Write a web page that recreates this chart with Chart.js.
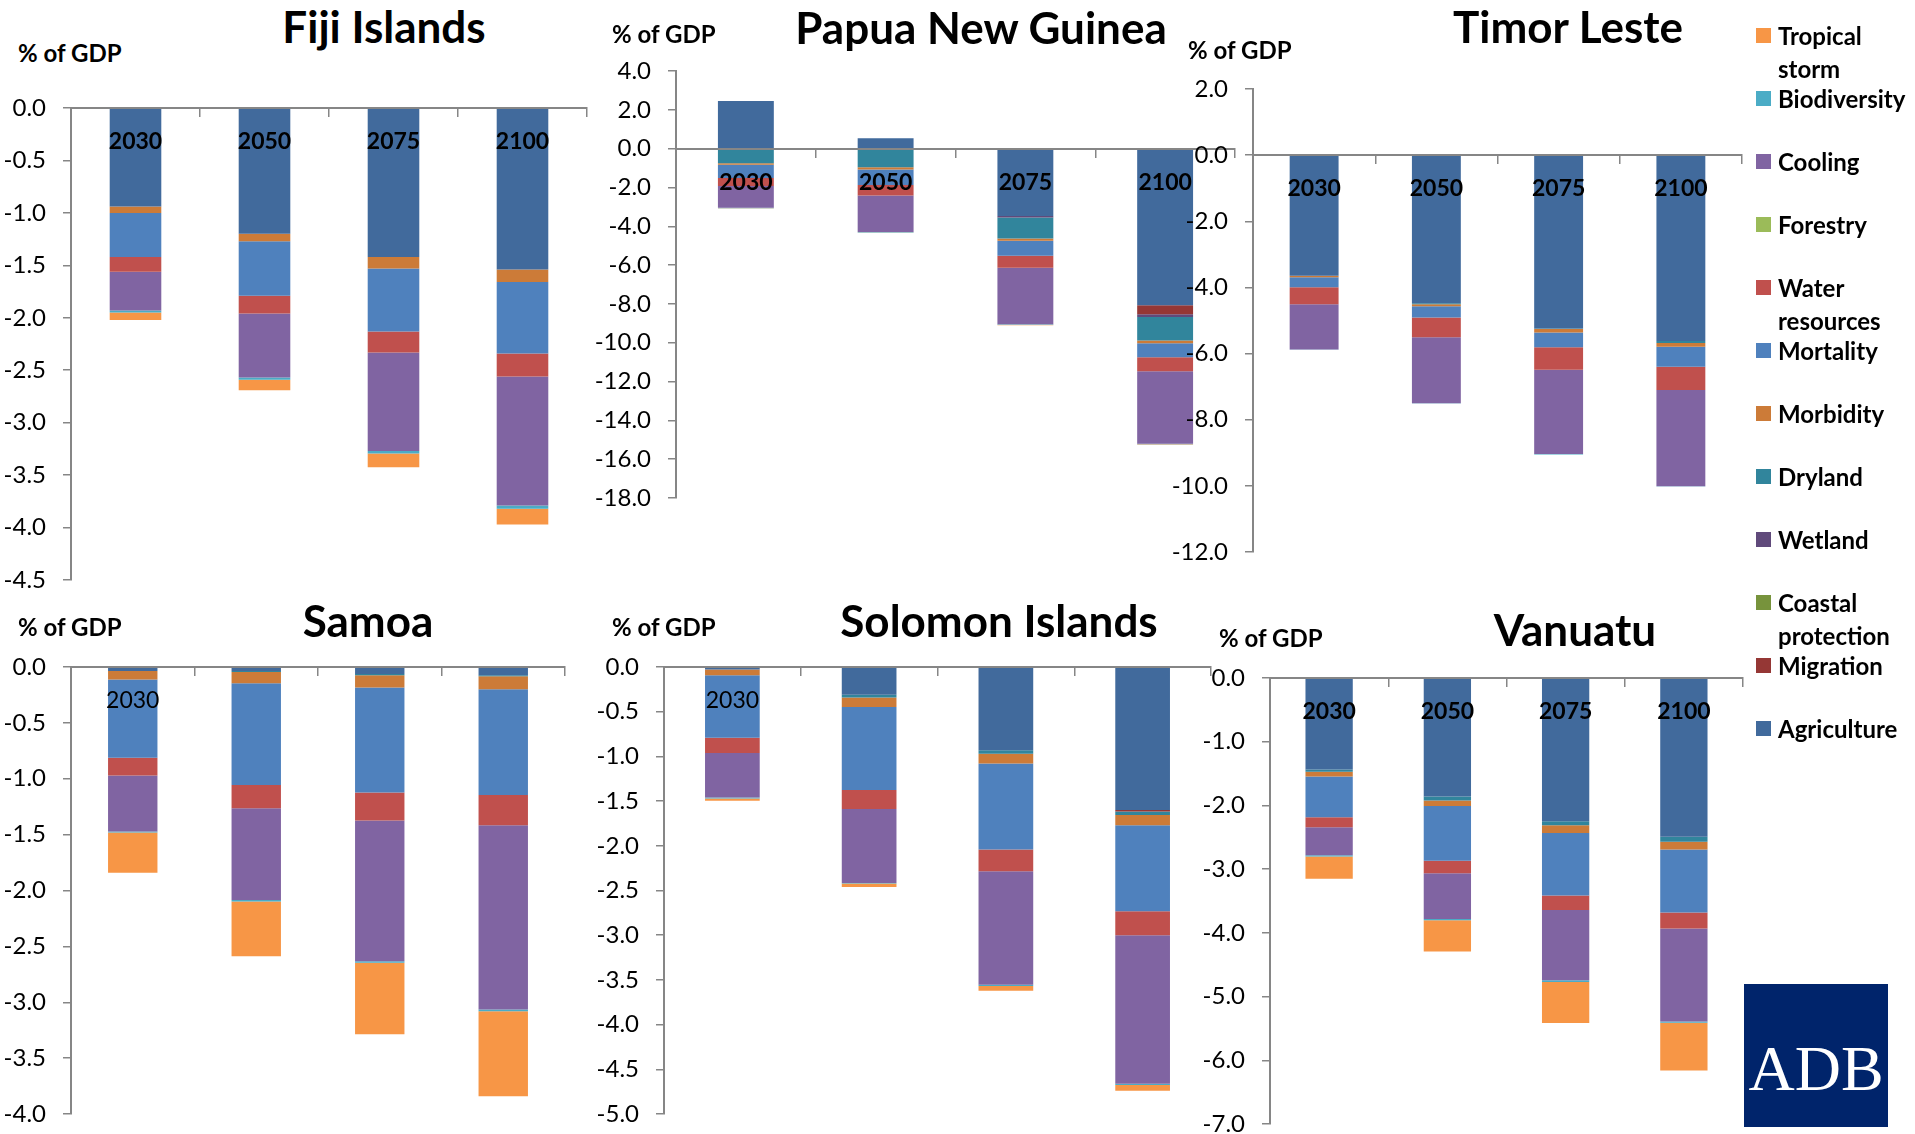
<!DOCTYPE html>
<html>
<head>
<meta charset="utf-8">
<script src="https://cdn.jsdelivr.net/npm/chart.js@4.4.1/dist/chart.umd.min.js"></script>
<style>
  body { margin:0; background:#fff; width:1915px; height:1134px; overflow:hidden; position:relative; font-family:Lato, sans-serif; color:#000; }
  canvas { position:absolute; }
  .title { position:absolute; font-weight:bold; font-size:44px; line-height:1; white-space:nowrap; transform:translateX(-50%); }
  .unit { position:absolute; font-weight:bold; font-size:24px; line-height:1; white-space:nowrap; }
  .lg-box { position:absolute; width:15px; height:15px; }
  .lg-text { position:absolute; font-weight:bold; font-size:24px; line-height:33px; white-space:nowrap; }
  #adb { position:absolute; left:1744px; top:984px; width:144px; height:143px; background:#00246b; }
  #adb span { position:absolute; left:0; width:144px; top:53px; text-align:center; color:#fff; font-family:"Liberation Serif", serif; font-size:64px; line-height:1; }
</style>
</head>
<body>
<div id="adb"><span>ADB</span></div>
<script>
var years = ['2030', '2050', '2075', '2100'];

// stacking order, from the zero line downwards
var seriesNames = ['Agriculture', 'Migration', 'Coastal protection', 'Wetland', 'Dryland', 'Morbidity',
                   'Mortality', 'Water resources', 'Forestry', 'Cooling', 'Biodiversity', 'Tropical storm'];
var seriesColors = ['#416a9c', '#953735', '#77933c', '#604a7b', '#31859c', '#cc7b38',
                    '#4f81bd', '#c0504d', '#9bbb59', '#8064a2', '#4bacc6', '#f79646'];

// one row per series (same order as seriesNames), one value per year
var fiji = [
  [-0.94, -1.20, -1.42, -1.54],
  [0, 0, 0, 0],
  [0, 0, 0, 0],
  [0, 0, 0, 0],
  [0, 0, 0, 0],
  [-0.06, -0.07, -0.11, -0.12],
  [-0.42, -0.52, -0.60, -0.68],
  [-0.14, -0.17, -0.20, -0.22],
  [0, 0, 0, 0],
  [-0.37, -0.61, -0.94, -1.23],
  [-0.02, -0.02, -0.025, -0.03],
  [-0.07, -0.10, -0.13, -0.15]
];
var papua = [
  [2.46, 0.53, -3.47, -8.07],
  [0, 0, 0, -0.46],
  [0, 0, 0, 0],
  [0, 0, -0.08, -0.15],
  [-0.75, -0.96, -1.08, -1.21],
  [-0.08, -0.12, -0.12, -0.14],
  [-0.68, -0.79, -0.77, -0.72],
  [-0.41, -0.55, -0.62, -0.72],
  [0, 0, 0, 0],
  [-1.13, -1.88, -2.91, -3.73],
  [-0.02, -0.02, -0.03, -0.03],
  [-0.02, -0.02, -0.02, -0.02]
];
var timor = [
  [-3.65, -4.48, -5.24, -5.62],
  [0, 0, 0, 0],
  [0, 0, 0, 0],
  [0, 0, 0, 0],
  [0, -0.03, -0.02, -0.06],
  [-0.045, -0.06, -0.10, -0.11],
  [-0.30, -0.34, -0.45, -0.61],
  [-0.51, -0.60, -0.68, -0.70],
  [0, 0, 0, 0],
  [-1.37, -1.99, -2.55, -2.91],
  [-0.01, -0.01, -0.01, -0.01],
  [0, 0, 0, 0]
];
var samoa = [
  [-0.035, -0.035, -0.063, -0.073],
  [0, 0, 0, 0],
  [0, 0, 0, 0],
  [0, 0, 0, 0],
  [0, -0.01, -0.01, -0.01],
  [-0.076, -0.10, -0.11, -0.117],
  [-0.70, -0.91, -0.94, -0.945],
  [-0.16, -0.21, -0.25, -0.27],
  [0, 0, 0, 0],
  [-0.50, -0.82, -1.26, -1.65],
  [-0.01, -0.013, -0.013, -0.016],
  [-0.36, -0.49, -0.64, -0.76]
];
var solomon = [
  [-0.028, -0.31, -0.93, -1.60],
  [0, 0, 0, -0.016],
  [0, 0, 0, 0],
  [0, 0, 0, 0],
  [0, -0.03, -0.04, -0.04],
  [-0.063, -0.107, -0.11, -0.115],
  [-0.70, -0.93, -0.96, -0.96],
  [-0.17, -0.21, -0.245, -0.27],
  [0, 0, 0, 0],
  [-0.50, -0.83, -1.27, -1.66],
  [-0.01, -0.005, -0.012, -0.016],
  [-0.025, -0.04, -0.055, -0.063]
];
var vanuatu = [
  [-1.437, -1.86, -2.25, -2.49],
  [0, 0, 0, 0],
  [0, 0, 0, 0],
  [0, 0, 0, 0],
  [-0.034, -0.063, -0.063, -0.08],
  [-0.075, -0.086, -0.12, -0.12],
  [-0.64, -0.86, -0.98, -0.99],
  [-0.155, -0.195, -0.23, -0.25],
  [0, 0, 0, 0],
  [-0.44, -0.72, -1.10, -1.46],
  [-0.02, -0.017, -0.03, -0.02],
  [-0.35, -0.49, -0.64, -0.75]
];

// legend is listed in this order in the original
var legendOrder = ['Tropical storm', 'Biodiversity', 'Cooling', 'Forestry', 'Water resources', 'Mortality',
                   'Morbidity', 'Dryland', 'Wetland', 'Coastal protection', 'Migration', 'Agriculture'];

// layout of the six panels (plot box = left, top, right, bottom)
var panels = [
  {title: 'Fiji Islands', data: fiji, min: -4.5, max: 0, step: 0.5, box: [71, 108, 587, 580], tx: 384, ty: 27, ux: 18, uy: 54, bold: true, all: true},
  {title: 'Papua New Guinea', data: papua, min: -18, max: 4, step: 2, box: [676, 71, 1235, 498], tx: 981, ty: 28, ux: 612, uy: 35, bold: true, all: true},
  {title: 'Timor Leste', data: timor, min: -12, max: 2, step: 2, box: [1253, 89, 1742, 552], tx: 1568, ty: 27, ux: 1188, uy: 51, bold: true, all: true},
  {title: 'Samoa', data: samoa, min: -4, max: 0, step: 0.5, box: [71, 667, 565, 1114], tx: 368, ty: 621, ux: 18, uy: 628, bold: false, all: false},
  {title: 'Solomon Islands', data: solomon, min: -5, max: 0, step: 0.5, box: [664, 667, 1211, 1114], tx: 999, ty: 621, ux: 612, uy: 628, bold: false, all: false},
  {title: 'Vanuatu', data: vanuatu, min: -7, max: 0, step: 1, box: [1270, 678, 1743, 1124], tx: 1575, ty: 630, ux: 1219, uy: 639, bold: true, all: true}
];

function addText(cls, text, left, top) {
  var d = document.createElement('div');
  d.className = cls;
  d.textContent = text;
  d.style.left = left + 'px';
  d.style.top = top + 'px';
  document.body.appendChild(d);
  return d;
}

function makePanel(p) {
  var padL = 90, padT = 40, padR = 20, padB = 40;
  var l = p.box[0], t = p.box[1], r = p.box[2], b = p.box[3];
  var w = r - l + padL + padR, h = b - t + padT + padB;
  var cv = document.createElement('canvas');
  cv.width = w; cv.height = h;
  cv.style.left = (l - padL) + 'px';
  cv.style.top = (t - padT) + 'px';
  cv.style.width = w + 'px';
  cv.style.height = h + 'px';
  document.body.appendChild(cv);

  addText('title', p.title, p.tx, p.ty - 23);
  addText('unit', '% of GDP', p.ux, p.uy - 13);

  new Chart(cv, {
    type: 'bar',
    data: {
      labels: years,
      datasets: seriesNames.map(function(name, i) {
        return {label: name, data: p.data[i], backgroundColor: seriesColors[i],
                barPercentage: 0.4, categoryPercentage: 1};
      })
    },
    options: {
      responsive: false,
      animation: false,
      devicePixelRatio: 1,
      layout: {padding: {left: 0, top: padT, right: padR, bottom: padB}},
      plugins: {legend: {display: false}, tooltip: {enabled: false}},
      scales: {
        x: {
          stacked: true,
          position: {y: 0},
          grid: {drawOnChartArea: false, tickLength: 8, color: '#868686', lineWidth: 1.5},
          border: {color: '#868686', width: 2, z: 1},
          ticks: {
            z: 1, padding: 12, color: '#000', maxRotation: 0, autoSkip: false,
            font: {family: 'Lato', size: 23, weight: p.bold ? 'bold' : 'normal'},
            callback: function(v, i) { return (p.all || i === 0) ? years[i] : ''; }
          }
        },
        y: {
          stacked: true,
          min: p.min,
          max: p.max,
          afterFit: function(s) { s.width = padL; },
          grid: {drawOnChartArea: false, tickLength: 8, color: '#868686', lineWidth: 1.5},
          border: {color: '#868686', width: 2},
          ticks: {
            stepSize: p.step, padding: 17, color: '#000',
            font: {family: 'Lato', size: 24},
            callback: function(v) { return Number(v).toFixed(1); }
          }
        }
      }
    }
  });
}

panels.forEach(makePanel);

legendOrder.forEach(function(name, n) {
  var k = seriesNames.indexOf(name);
  var cy = 35 + 63 * n;
  var box = document.createElement('div');
  box.className = 'lg-box';
  box.style.left = '1756px';
  box.style.top = (cy - 7) + 'px';
  box.style.background = seriesColors[k];
  document.body.appendChild(box);
  var txt = addText('lg-text', '', 1778, cy - 16.5);
  txt.innerHTML = name.split(' ').join('<br>');
});
</script>
</body>
</html>
